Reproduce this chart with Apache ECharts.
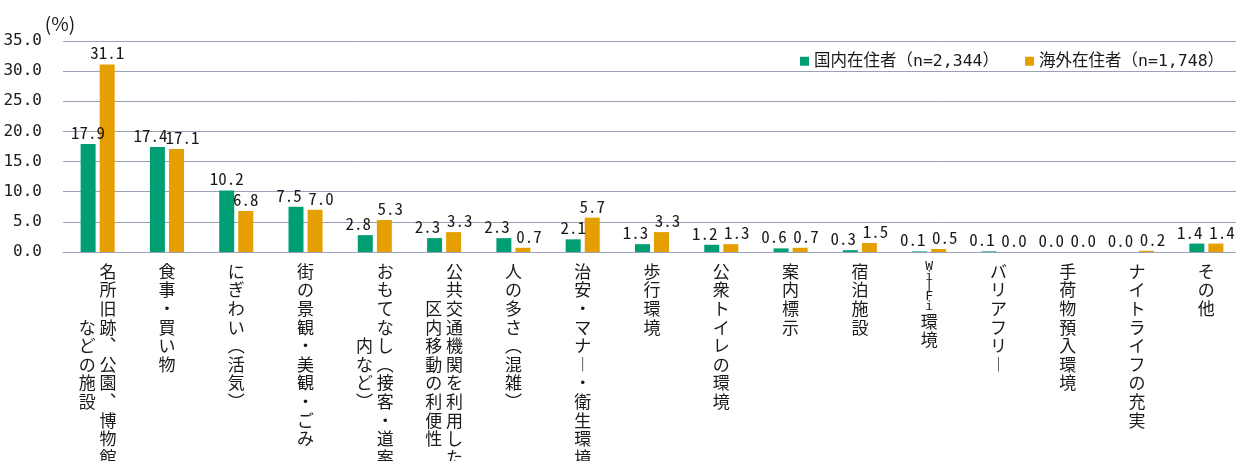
<!DOCTYPE html>
<html><head><meta charset="utf-8">
<script src="https://cdn.jsdelivr.net/npm/echarts@6/dist/echarts.min.js"></script>
<style>html,body{margin:0;padding:0;background:#fff}#c{width:1236px;height:461px}</style>
</head><body><div id="c"></div>
<script>
// ---- data ----
const categories = [
  '名所旧跡、公園、博物館\nなどの施設',
  '食事・買い物',
  'にぎわい（活気）',
  '街の景観・美観・ごみ',
  'おもてなし（接客・道案\n内など）',
  '公共交通機関を利用した\n区内移動の利便性',
  '人の多さ（混雑）',
  '治安・マナー・衛生環境',
  '歩行環境',
  '公衆トイレの環境',
  '案内標示',
  '宿泊施設',
  'Wi-Fi環境',
  'バリアフリー',
  '手荷物預入環境',
  'ナイトライフの充実',
  'その他'
];
const seriesNames = ['国内在住者（n=2,344）', '海外在住者（n=1,748）'];
const domestic = [17.9, 17.4, 10.2, 7.5, 2.8, 2.3, 2.3, 2.1, 1.3, 1.2, 0.6, 0.3, 0.1, 0.1, 0.0, 0.0, 1.4];
const overseas = [31.1, 17.1, 6.8, 7.0, 5.3, 3.3, 0.7, 5.7, 3.3, 1.3, 0.7, 1.5, 0.5, 0.0, 0.0, 0.2, 1.4];
const yMin = 0, yMax = 35, yStep = 5;
const yUnit = '(%)';

// ---- vertical text helper ----
const VMAP = {'（':'︵','）':'︶','、':'︑','ー':'︱','-':'|'};
function cell(c){
  const v = VMAP[c] || c;
  return (c.charCodeAt(0) < 128) ? '{h|' + v + '}' : v;
}
function toVertical(label){
  const cols = label.split('\n').map(s => Array.from(s));
  if (cols.length === 1) return cols[0].map(cell).join('\n');
  const main = cols[0], sub = cols[1];
  const off = Math.ceil((main.length - sub.length) / 2);
  const rows = [];
  for (let i = 0; i < main.length; i++) {
    const s = sub[i - off] ? cell(sub[i - off]) : '\u3000';
    rows.push(s + ' ' + cell(main[i]));
  }
  return rows.join('\n');
}

const GREEN = '#009E73', ORANGE = '#E69F00', GRID = '#98a2b3', TXT = '#1a1a1a';
const MONO = '"DejaVu Sans Mono", "Noto Sans CJK JP", monospace';
const CJKMONO = '"Noto Sans Mono CJK JP", "Noto Sans CJK JP", sans-serif';
const CJK = '"Noto Sans CJK JP", sans-serif';

// labels of neighbouring bars with close values are pushed apart sideways
const PX_PER_UNIT = 211 / (yMax - yMin);
function items(vals, other, dx){
  return vals.map((v, i) => {
    const close = Math.abs(v - other[i]) * PX_PER_UNIT < 18;
    return close ? {value: v, label: {offset: [dx, 0]}} : {value: v};
  });
}

const chart = echarts.init(document.getElementById('c'), null, {renderer: 'canvas'});
const labelCfg = {
  show: true, position: 'top', distance: 3,
  color: TXT, fontFamily: CJKMONO, fontSize: 17,
  formatter: p => Number(p.value).toFixed(1)
};
chart.setOption({
  animation: false,
  backgroundColor: '#fff',
  grid: {left: 63, right: -5, top: 41, bottom: 209, containLabel: false, outerBoundsMode: 'none'},
  legend: {
    data: seriesNames, left: 795, top: 48, icon: 'rect',
    itemWidth: 9, itemHeight: 9, itemGap: 26,
    textStyle: {fontFamily: MONO, fontSize: 16.5, color: TXT}
  },
  xAxis: {
    type: 'category', data: categories,
    axisTick: {show: false},
    axisLine: {lineStyle: {color: GRID, width: 1}},
    axisLabel: {
      interval: 0, margin: 10, color: TXT, fontFamily: CJK,
      fontSize: 17, lineHeight: 18.6, verticalAlign: 'top',
      formatter: v => toVertical(v),
      rich: {h: {fontFamily: MONO, fontSize: 13, lineHeight: 10, color: TXT}}
    }
  },
  yAxis: {
    type: 'value', min: yMin, max: yMax, interval: yStep,
    name: yUnit, nameLocation: 'end', nameGap: 8,
    nameTextStyle: {fontFamily: CJK, fontSize: 19, color: TXT, align: 'center', padding: [0, 6, 0, 0]},
    axisLine: {show: false}, axisTick: {show: false},
    axisLabel: {margin: 21, color: TXT, fontFamily: MONO, fontSize: 16, formatter: v => v.toFixed(1)},
    splitLine: {lineStyle: {color: GRID, width: 1}}
  },
  series: [
    {name: seriesNames[0], type: 'bar', data: items(domestic, overseas, -7), barWidth: 15, barGap: '27%',
     itemStyle: {color: GREEN}, label: labelCfg},
    {name: seriesNames[1], type: 'bar', data: items(overseas, domestic, 6), barWidth: 15, barGap: '27%',
     itemStyle: {color: ORANGE}, label: labelCfg}
  ]
});
</script></body></html>
